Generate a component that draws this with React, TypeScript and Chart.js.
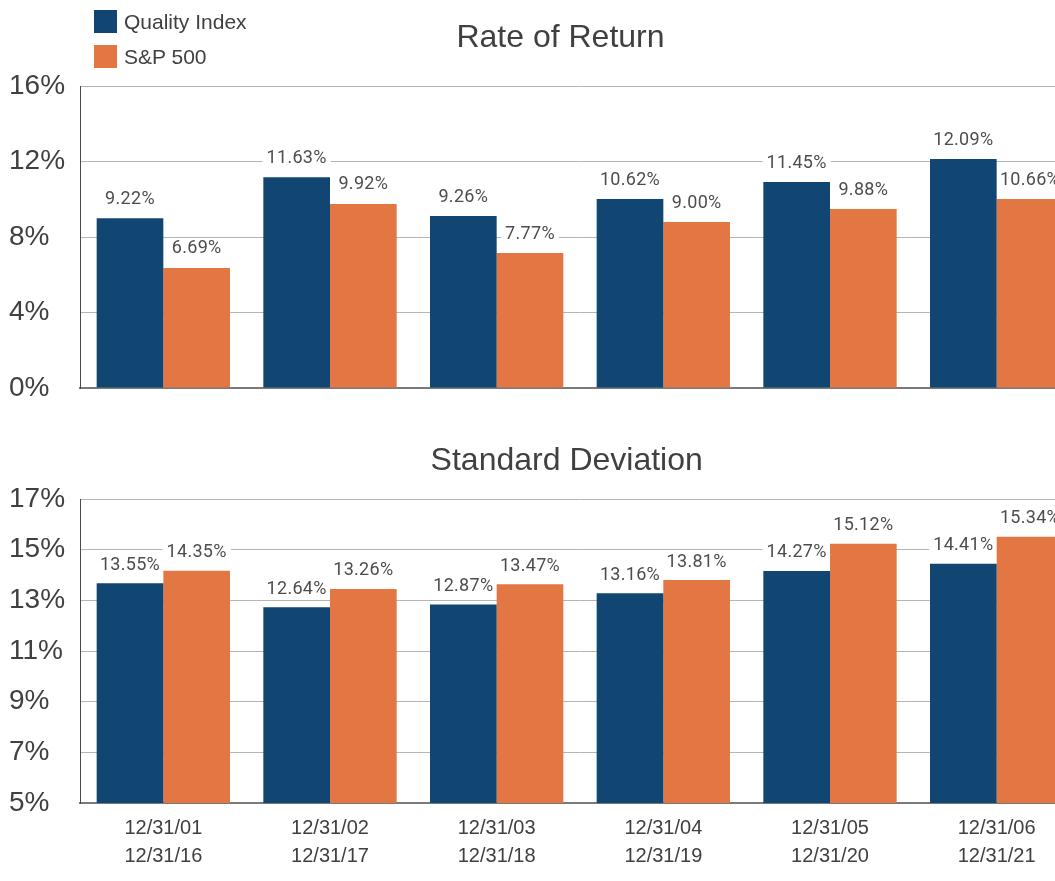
import React, { useEffect, useRef } from 'react';
import { Chart, registerables } from 'chart.js';

Chart.register(...registerables);

// ---- data ----
const categories: string[][] = [
  ['12/31/01', '12/31/16'],
  ['12/31/02', '12/31/17'],
  ['12/31/03', '12/31/18'],
  ['12/31/04', '12/31/19'],
  ['12/31/05', '12/31/20'],
  ['12/31/06', '12/31/21'],
];
const seriesNames = ['Quality Index', 'S&P 500'];

// Rate of Return (bar heights as drawn, in %)
const returnQuality = [9.0, 11.16, 9.11, 10.01, 10.91, 12.13];
const returnSP500 = [6.36, 9.75, 7.15, 8.79, 9.48, 10.01];
const returnQualityLabels = ['9.22%', '11.63%', '9.26%', '10.62%', '11.45%', '12.09%'];
const returnSP500Labels = ['6.69%', '9.92%', '7.77%', '9.00%', '9.88%', '10.66%'];

// Standard Deviation (bar heights as drawn, in %)
const sdQuality = [13.67, 12.73, 12.84, 13.28, 14.16, 14.44];
const sdSP500 = [14.17, 13.45, 13.63, 13.8, 15.23, 15.51];
const sdQualityLabels = ['13.55%', '12.64%', '12.87%', '13.16%', '14.27%', '14.41%'];
const sdSP500Labels = ['14.35%', '13.26%', '13.47%', '13.81%', '15.12%', '15.34%'];

const returnAxis = { min: 0, max: 16, step: 4 };
const sdAxis = { min: 5, max: 17, step: 2 };

// ---- styles ----
const NAVY = '#124672';
const ORANGE = '#E37743';
const TEXT = '#404040';
const LABEL_TEXT = '#4d4d4d';
const GRID = '#b5b5b5';
const SANS = '"Liberation Sans", Arial, sans-serif';

const valueLabelPlugin = {
  id: 'valueLabels',
  beforeDatasetsDraw(chart: any, _args: any, opts: any) {
    const ctx = chart.ctx;
    ctx.save();
    ctx.font = opts.font;
    (ctx as any).letterSpacing = opts.letterSpacing || '0px';
    chart.data.datasets.forEach((_ds: any, di: number) => {
      const meta = chart.getDatasetMeta(di);
      meta.data.forEach((bar: any, i: number) => {
        const text = opts.labels[di][i];
        const w = ctx.measureText(text).width;
        const y = bar.y - opts.offset;
        ctx.fillStyle = '#ffffff';
        ctx.fillRect(bar.x - w / 2 - 4, y - 10, w + 8, 20);
      });
    });
    ctx.restore();
  },
  afterDatasetsDraw(chart: any, _args: any, opts: any) {
    const ctx = chart.ctx;
    ctx.save();
    ctx.font = opts.font;
    (ctx as any).letterSpacing = opts.letterSpacing || '0px';
    ctx.fillStyle = opts.color;
    ctx.textAlign = 'center';
    ctx.textBaseline = 'middle';
    chart.data.datasets.forEach((_ds: any, di: number) => {
      const meta = chart.getDatasetMeta(di);
      meta.data.forEach((bar: any, i: number) => {
        const text = opts.labels[di][i];
        ctx.fillText(text, bar.x, bar.y - opts.offset);
      });
    });
    ctx.restore();
  },
};

const titlePlugin = {
  id: 'posTitle',
  afterDraw(chart: any, _args: any, opts: any) {
    const ctx = chart.ctx;
    ctx.save();
    ctx.font = opts.font;
    ctx.fillStyle = opts.color;
    ctx.textAlign = 'center';
    ctx.textBaseline = 'alphabetic';
    ctx.fillText(opts.text, opts.x, opts.y);
    ctx.restore();
  },
};

function makeConfig(opts: {
  q: number[];
  s: number[];
  qLabels: string[];
  sLabels: string[];
  axis: { min: number; max: number; step: number };
  showX: boolean;
  padding: { top: number; bottom: number; left: number; right: number };
  title: string;
  titleX: number;
  titleY: number;
  labelOffset: number;
}): any {
  return {
    type: 'bar',
    data: {
      labels: categories,
      datasets: [
        { label: seriesNames[0], data: opts.q, backgroundColor: NAVY, borderWidth: 0 },
        { label: seriesNames[1], data: opts.s, backgroundColor: ORANGE, borderWidth: 0 },
      ],
    },
    plugins: [valueLabelPlugin, titlePlugin],
    options: {
      responsive: false,
      animation: false,
      devicePixelRatio: 1,
      layout: { padding: opts.padding },
      datasets: { bar: { categoryPercentage: 0.8, barPercentage: 1.0 } },
      plugins: {
        legend: { display: false },
        tooltip: { enabled: false },
        title: { display: false },
        valueLabels: {
          labels: [opts.qLabels, opts.sLabels],
          offset: opts.labelOffset,
          font: '18px Roboto',
          letterSpacing: '0.3px',
          color: LABEL_TEXT,
        },
        posTitle: {
          text: opts.title,
          x: opts.titleX,
          y: opts.titleY,
          font: `32px ${SANS}`,
          color: TEXT,
        },
      },
      scales: {
        x: {
          grid: { display: false, drawTicks: false },
          border: { display: true, color: '#7a7a7a', width: 2 },
          ticks: {
            display: opts.showX,
            color: TEXT,
            padding: 11,
            maxRotation: 0,
            font: { family: SANS, size: 20, lineHeight: 1.4 },
          },
        },
        y: {
          min: opts.axis.min,
          max: opts.axis.max,
          afterFit: (scale: any) => {
            scale.width = 71;
          },
          grid: {
            color: (ctx: any) => (ctx.tick && ctx.tick.value === opts.axis.min ? 'rgba(0,0,0,0)' : GRID),
            lineWidth: 1,
            drawTicks: false,
          },
          border: { display: true, color: '#4a4a4a', width: 1 },
          ticks: {
            stepSize: opts.axis.step,
            crossAlign: 'far',
            padding: 0,
            color: TEXT,
            font: { family: SANS, size: 28 },
            callback: (v: any) => `${v}%`,
          },
        },
      },
    },
  };
}

function ChartCanvas(props: { config: any; width: number; height: number; top: number }) {
  const ref = useRef<HTMLCanvasElement | null>(null);
  useEffect(() => {
    if (!ref.current) return;
    const chart = new Chart(ref.current, props.config);
    return () => chart.destroy();
  }, []);
  return (
    <canvas
      ref={ref}
      width={props.width}
      height={props.height}
      style={{ position: 'absolute', left: 0, top: props.top, width: props.width, height: props.height }}
    />
  );
}

export default function App() {
  const topConfig = makeConfig({
    q: returnQuality,
    s: returnSP500,
    qLabels: returnQualityLabels,
    sLabels: returnSP500Labels,
    axis: returnAxis,
    showX: false,
    padding: { top: 86, bottom: 32, left: 9, right: 20 },
    title: 'Rate of Return',
    titleX: 560.5,
    titleY: 47,
    labelOffset: 19,
  });
  const bottomConfig = makeConfig({
    q: sdQuality,
    s: sdSP500,
    qLabels: sdQualityLabels,
    sLabels: sdSP500Labels,
    axis: sdAxis,
    showX: true,
    padding: { top: 79, bottom: 0, left: 9, right: 20 },
    title: 'Standard Deviation',
    titleX: 566.7,
    titleY: 49.5,
    labelOffset: 18,
  });

  const legendItem = (color: string, text: string, top: number) => (
    <div style={{ position: 'absolute', left: 94, top, height: 23, display: 'flex', alignItems: 'center' }}>
      <div style={{ width: 23, height: 23, background: color }} />
      <span
        style={{
          marginLeft: 7,
          fontFamily: SANS,
          fontSize: 21,
          color: TEXT,
          lineHeight: '23px',
          whiteSpace: 'nowrap',
        }}
      >
        {text}
      </span>
    </div>
  );

  return (
    <div
      style={{
        position: 'fixed',
        left: 0,
        top: 0,
        width: 1055,
        height: 881,
        overflow: 'hidden',
        background: '#ffffff',
      }}
    >
      <ChartCanvas config={topConfig} width={1100} height={420} top={0} />
      <ChartCanvas config={bottomConfig} width={1100} height={461} top={420} />
      {legendItem(NAVY, seriesNames[0], 10)}
      {legendItem(ORANGE, seriesNames[1], 45)}
    </div>
  );
}
